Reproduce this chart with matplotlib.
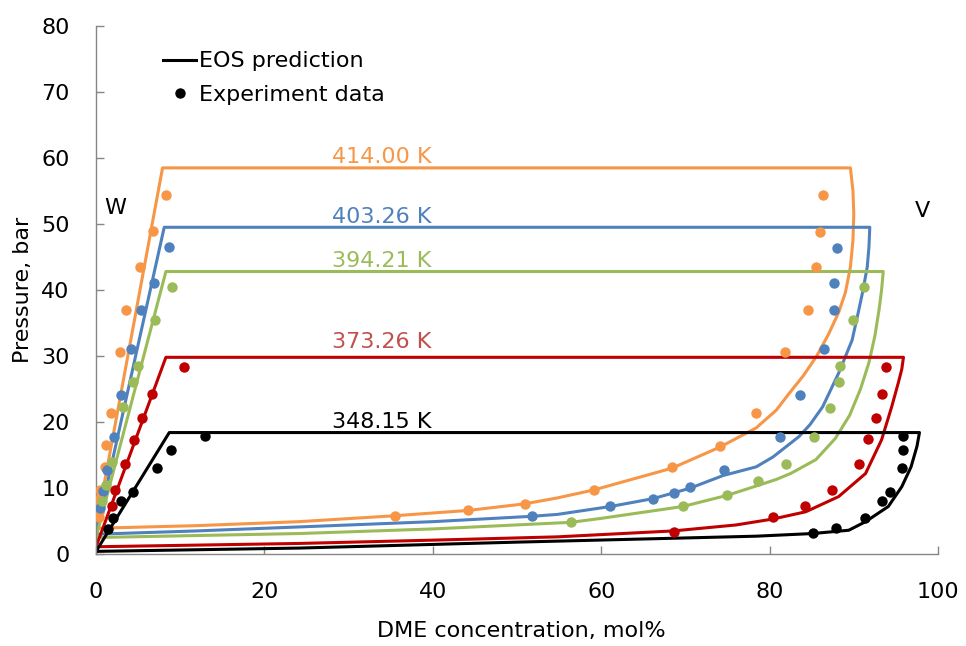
import matplotlib
matplotlib.use("Agg")
import matplotlib.pyplot as plt
from matplotlib.lines import Line2D

plt.rcParams['font.family'] = ['DejaVu Sans']

temps = ["414.00 K", "403.26 K", "394.21 K", "373.26 K", "348.15 K"]
line_colors = ["#F79646", "#4F81BD", "#9BBB59", "#C00000", "#000000"]
label_colors = ["#F79646", "#4F81BD", "#9BBB59", "#C0504D", "#000000"]
label_x = [28.0, 28.0, 28.0, 28.0, 28.0]
label_p = [60.2, 51.1, 44.4, 32.1, 20.0]

# EOS prediction curves (x: DME mol%, P: bar), traced as closed loops
eos_414_x = [0, 7.9, 89.6, 89.9, 90.0, 89.9, 89.6, 89.0, 88.2, 87.0, 85.6, 84.0, 82.3, 80.8, 78.4, 74.1, 68.4, 59.1, 54.8, 50.9, 44.2, 35.5, 24.1, 12, 0]
eos_414_p = [3.9, 58.5, 58.5, 55.0, 51.5, 47.5, 43.5, 39.6, 36.6, 33.3, 30.0, 27.0, 24.3, 21.8, 19.1, 16.2, 13.0, 9.7, 8.5, 7.6, 6.6, 5.8, 4.9, 4.3, 3.9]

eos_403_x = [0, 8.1, 91.9, 91.8, 91.6, 91.1, 90.6, 89.8, 88.2, 86.3, 84.8, 83.5, 80.4, 78.4, 74.5, 70.5, 66.2, 61.1, 54.8, 51.6, 40, 24.1, 12, 0]
eos_403_p = [3.0, 49.5, 49.5, 46.5, 43.5, 40.0, 37.0, 32.4, 27.4, 22.3, 19.6, 17.8, 14.7, 13.2, 11.9, 9.95, 8.4, 7.2, 6.0, 5.7, 4.9, 4.1, 3.5, 3.0]

eos_394_x = [0, 8.3, 93.5, 93.3, 93.0, 92.5, 91.8, 90.8, 89.5, 87.8, 85.5, 82.5, 80.8, 78.4, 75.0, 69.7, 60, 56.4, 40, 24.1, 12, 0]
eos_394_p = [2.5, 42.8, 42.8, 40.0, 37.0, 33.0, 29.0, 25.0, 21.0, 17.5, 14.3, 12.2, 11.3, 10.3, 8.9, 7.2, 5.4, 4.8, 3.8, 3.1, 2.8, 2.5]

eos_373_x = [0, 8.3, 95.9, 95.7, 95.3, 94.5, 93.3, 91.4, 88.2, 84.3, 80.4, 76, 68.6, 54.8, 40, 24.1, 0]
eos_373_p = [1.1, 29.8, 29.8, 28.0, 26.0, 22.3, 17.3, 12.2, 8.7, 6.4, 5.3, 4.4, 3.5, 2.6, 2.1, 1.6, 1.1]

eos_348_x = [0, 8.7, 97.8, 97.5, 96.8, 95.7, 94.1, 91.4, 89.4, 85.1, 78.4, 50, 24.1, 0]
eos_348_p = [0.4, 18.4, 18.4, 16.3, 13.2, 10.2, 7.2, 4.9, 3.6, 3.1, 2.7, 1.8, 0.9, 0.4]

# Experimental data
exp_414_x = [8.3, 6.8, 5.2, 3.6, 2.8, 1.8, 1.2, 1.1, 0.5, 0.3, 0.2, 0.3, 0.3,
             86.4, 86.0, 85.5, 84.6, 81.8, 78.4, 74.1, 68.4, 59.1, 50.9, 44.2, 35.5]
exp_414_p = [54.4, 48.9, 43.5, 37.0, 30.6, 21.3, 16.5, 13.2, 9.7, 8.3, 7.2, 6.4, 5.6,
             54.4, 48.8, 43.5, 37.0, 30.6, 21.3, 16.4, 13.2, 9.7, 7.6, 6.6, 5.8]

exp_403_x = [8.7, 6.85, 5.4, 4.1, 3.0, 2.1, 1.3, 0.8, 0.5,
             88.0, 87.6, 87.6, 86.5, 83.6, 81.2, 74.6, 70.5, 68.7, 66.2, 61.1, 51.8]
exp_403_p = [46.5, 41.1, 37.0, 31.1, 24.1, 17.8, 12.7, 9.5, 7.0,
             46.4, 41.1, 37.0, 31.0, 24.1, 17.8, 12.7, 10.1, 9.3, 8.4, 7.2, 5.8]

exp_394_x = [9.05, 7.0, 5.0, 4.4, 3.2, 1.9, 1.2, 0.7,
             91.2, 89.9, 88.4, 88.2, 87.2, 85.3, 82.0, 78.6, 75.0, 69.7, 56.4]
exp_394_p = [40.5, 35.4, 28.5, 26.1, 22.2, 14.0, 10.5, 8.0,
             40.5, 35.5, 28.5, 26.1, 22.1, 17.7, 13.7, 11.0, 9.0, 7.2, 4.8]

exp_373_x = [10.5, 6.6, 5.5, 4.5, 3.5, 2.2, 1.9,
             93.8, 93.3, 92.6, 91.7, 90.6, 87.4, 84.2, 80.4, 68.6]
exp_373_p = [28.4, 24.3, 20.6, 17.3, 13.7, 9.7, 7.2,
             28.3, 24.3, 20.6, 17.4, 13.7, 9.7, 7.2, 5.6, 3.4]

exp_348_x = [12.9, 8.9, 7.2, 4.4, 3.0, 2.0, 1.4,
             95.9, 95.9, 95.7, 94.3, 93.4, 91.3, 87.9, 85.2]
exp_348_p = [17.9, 15.8, 13.1, 9.4, 8.1, 5.4, 3.8,
             17.9, 15.8, 13.1, 9.4, 8.0, 5.5, 3.9, 3.2]

eos_x = [eos_414_x, eos_403_x, eos_394_x, eos_373_x, eos_348_x]
eos_p = [eos_414_p, eos_403_p, eos_394_p, eos_373_p, eos_348_p]
exp_x = [exp_414_x, exp_403_x, exp_394_x, exp_373_x, exp_348_x]
exp_p = [exp_414_p, exp_403_p, exp_394_p, exp_373_p, exp_348_p]

x_ticks = [0, 20, 40, 60, 80, 100]
y_ticks = [0, 10, 20, 30, 40, 50, 60, 70, 80]

FS = 16

fig = plt.figure(figsize=(9.66, 6.46), dpi=100)
ax = fig.add_axes([0.0994, 0.1424, 0.8716, 0.8174])

for i in range(len(temps)):
    ax.plot(eos_x[i], eos_p[i], color=line_colors[i], lw=2.2, solid_joinstyle='round', zorder=2)
for i in range(len(temps)):
    ax.plot(exp_x[i], exp_p[i], 'o', color=line_colors[i], ms=7.5, mec='none', zorder=3)
    ax.text(label_x[i], label_p[i], temps[i], color=label_colors[i], fontsize=FS,
            ha='left', va='center', zorder=4)

ax.text(0.95, 52.4, "W", fontsize=FS, ha='left', va='center')
ax.text(97.3, 52.0, "V", fontsize=FS, ha='left', va='center')

ax.set_xlim(0, 100)
ax.set_ylim(0, 80)
ax.set_xticks(x_ticks)
ax.set_yticks(y_ticks)
ax.tick_params(direction='in', length=6, width=1, color='#868686', labelsize=FS)
ax.tick_params(axis='x', pad=20)
ax.tick_params(axis='y', pad=19)
for s in ['top', 'right']:
    ax.spines[s].set_visible(False)
for s in ['left', 'bottom']:
    ax.spines[s].set_color('#868686')
    ax.spines[s].set_linewidth(1)

ax.set_xlabel("DME concentration, mol%", fontsize=FS)
ax.set_ylabel("Pressure, bar", fontsize=FS)
ax.xaxis.set_label_coords(0.505, -0.127)
ax.yaxis.set_label_coords(-0.075, 0.5)

handles = [Line2D([], [], color='black', lw=2.2),
           Line2D([], [], marker='o', ls='none', color='black', ms=7.5, mec='none')]
ax.legend(handles, ["EOS prediction", "Experiment data"], loc='upper left',
          bbox_to_anchor=(0.0796, 0.952), frameon=False, fontsize=FS,
          handlelength=1.5, handletextpad=0.1, labelspacing=0.62, borderaxespad=0,
          borderpad=0)

fig.savefig("out.png", dpi=100)
